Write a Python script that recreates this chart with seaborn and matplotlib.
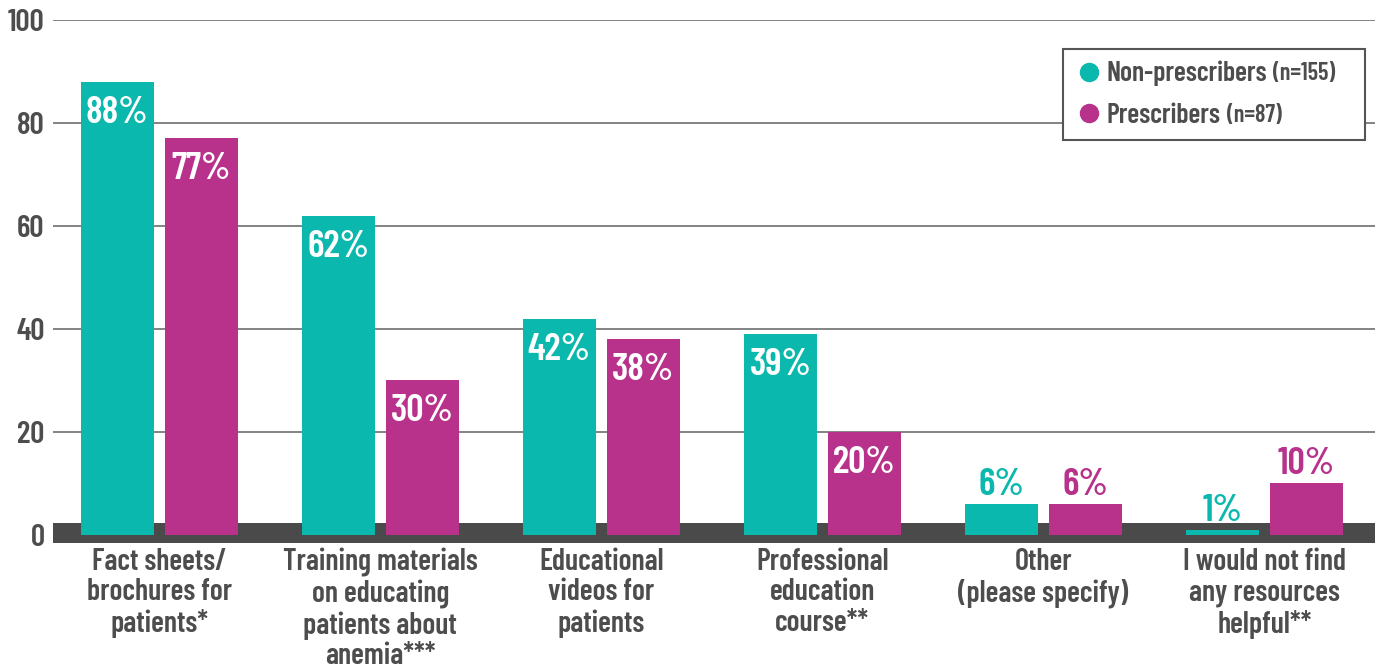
import matplotlib
matplotlib.use("Agg")
import matplotlib.pyplot as plt
from matplotlib.lines import Line2D
import seaborn as sns
import pandas as pd

categories = [
    "Fact sheets/\nbrochures for\npatients*",
    "Training materials\non educating\npatients about\nanemia***",
    "Educational\nvideos for\npatients",
    "Professional\neducation\ncourse**",
    "Other\n(please specify)",
    "I would not find\nany resources\nhelpful**",
]
groups = ["Non-prescribers", "Prescribers"]
group_n = ["(n=155)", "(n=87)"]
non_prescribers = [88, 62, 42, 39, 6, 1]
prescribers = [77, 30, 38, 20, 6, 10]
yticks = [0, 20, 40, 60, 80, 100]

colors = ["#0bb8ad", "#b8328b"]
text_gray = "#4d4d4d"
band_gray = "#4a4a4a"

df = pd.DataFrame({
    "category": categories * 2,
    "group": [groups[0]] * len(categories) + [groups[1]] * len(categories),
    "value": non_prescribers + prescribers,
})

sns.set_theme(style="white")
FONT = ["Barlow Condensed", "DejaVu Sans"]
W = 600
plt.rcParams["font.family"] = FONT
plt.rcParams["font.weight"] = W

fig = plt.figure(figsize=(13.81, 6.71), dpi=100)
ax = fig.add_axes([0.0384, 0.1908, 0.9573, 0.7794])

sns.barplot(data=df, x="category", y="value", hue="group", order=categories,
            hue_order=groups, palette=colors, width=0.76, gap=0.13,
            dodge=True, saturation=1, errorbar=None, legend=False,
            linewidth=0, ax=ax)

for cont in ax.containers:
    for bar in cont:
        bar.set_zorder(3)
        bar.set_linewidth(0)

ax.axhspan(-1.55, 2.3, color=band_gray, zorder=2, lw=0)

ax.set_ylim(-1.55, 100)
ax.set_xlim(-0.48, 5.50)
ax.set_yticks(yticks)
ax.set_yticklabels([str(t) for t in yticks])
ax.grid(axis="y", color="#7a7a7a", lw=1.3)
ax.grid(axis="x", visible=False)
ax.set_axisbelow(True)
for s in ax.spines.values():
    s.set_visible(False)
ax.tick_params(axis="both", length=0)
ax.tick_params(axis="y", pad=6, labelsize=22.5, labelcolor=text_gray)
ax.tick_params(axis="x", pad=3.5, labelsize=21.5, labelcolor=text_gray)
for lab in ax.get_xticklabels():
    lab.set_linespacing(1.12)
    lab.set_fontweight(W)
    lab.set_verticalalignment("top")
for lab in ax.get_yticklabels():
    lab.set_fontweight(W)
ax.set_xlabel("")
ax.set_ylabel("")

# value labels
for cont, col in zip(ax.containers, colors):
    for bar in cont:
        h = bar.get_height()
        xc = bar.get_x() + bar.get_width() / 2
        if h > 15:
            ax.annotate(f"{h:.0f}%", xy=(xc, h), xytext=(0, -10),
                        textcoords="offset points", ha="center", va="top",
                        color="white", fontsize=27.5, fontweight=W, zorder=4)
        else:
            ax.annotate(f"{h:.0f}%", xy=(xc, h), xytext=(0, 6.5),
                        textcoords="offset points", ha="center", va="baseline",
                        color=col, fontsize=27.5, fontweight=W, zorder=4)

# legend
handles = [Line2D([], [], marker="o", ls="", markersize=13, color=c) for c in colors]
leg = ax.legend(handles, groups, loc="upper left",
                bbox_to_anchor=(0.764, 0.774, 0.2284, 0.1705), mode="expand",
                borderaxespad=0, frameon=True, fancybox=False, framealpha=1,
                edgecolor="#555555", fontsize=20, handlelength=1.0,
                handletextpad=0.15, labelspacing=0.6, borderpad=0.43)
leg.get_frame().set_linewidth(1.5)
leg.set_zorder(5)
for t in leg.get_texts():
    t.set_color(text_gray)
    t.set_fontweight(W)
for t, n in zip(leg.get_texts(), group_n):
    ax.annotate(n, xy=(1, 0), xycoords=t, xytext=(4, 1), textcoords="offset points",
                ha="left", va="bottom", fontsize=17.5, fontweight=W,
                color=text_gray, zorder=6)

fig.savefig("out.png", dpi=100)
